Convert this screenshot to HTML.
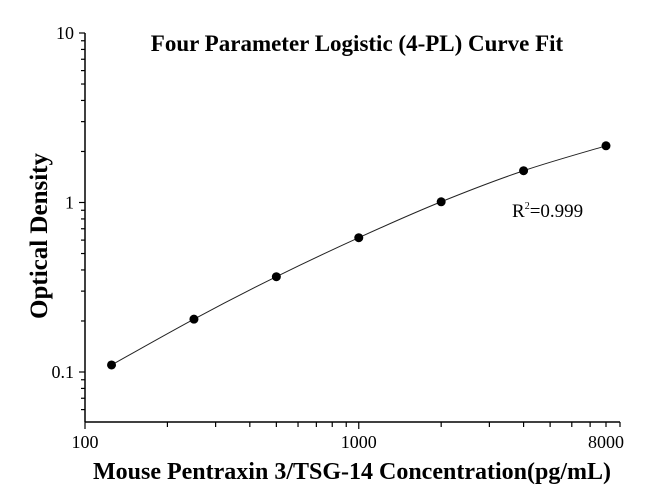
<!DOCTYPE html>
<html><head><meta charset="utf-8"><style>
body{margin:0;background:#fff}
svg text{font-family:"Liberation Serif",serif;fill:#000}
</style></head><body>
<svg id="c" width="650" height="496" viewBox="0 0 650 496">
<text x="357" y="51" font-size="23" font-weight="bold" text-anchor="middle">Four Parameter Logistic (4-PL) Curve Fit</text>
<text transform="translate(47,236) rotate(-90)" font-size="25" font-weight="bold" text-anchor="middle">Optical Density</text>
<text x="352" y="479" font-size="24" font-weight="bold" text-anchor="middle">Mouse Pentraxin 3/TSG-14 Concentration(pg/mL)</text>
<text x="512" y="217" font-size="19">R<tspan dy="-8" font-size="10">2</tspan><tspan dy="8">=0.999</tspan></text>
<g id="axes"></g><g id="plot"></g>
</svg>
<script>
const concentrations=[125,250,500,1000,2000,4000,8000];
const odValues=[0.11,0.205,0.365,0.62,1.01,1.54,2.16];
const xTickLabels=["100","1000","8000"];
const yTickLabels=["0.1","1","10"];
const NS="http://www.w3.org/2000/svg";
const L=85,R=620,T=33,B=422;
const xMin=100,xMax=9000,yMin=0.0507,yMax=10;
const X=v=>L+(Math.log10(v)-Math.log10(xMin))/(Math.log10(xMax)-Math.log10(xMin))*(R-L);
const Y=v=>B-(Math.log10(v)-Math.log10(yMin))/(Math.log10(yMax)-Math.log10(yMin))*(B-T);
function mk(t,a,p){const e=document.createElementNS(NS,t);for(const k in a)e.setAttribute(k,a[k]);p.appendChild(e);return e;}
const ax=document.getElementById('axes'),pl=document.getElementById('plot');
const yl=mk('line',{x1:L,y1:T,x2:L,y2:B,stroke:'#000','stroke-width':1.5},ax);


const xl=mk('line',{x1:L,y1:B,x2:R,y2:B,stroke:'#000','stroke-width':1.5},ax);


for(let d=-2;d<=1;d++){for(let m=1;m<=9;m++){const v=m*Math.pow(10,d);if(v<yMin||v>yMax+1e-9)continue;
const y=Y(v);const len=m===1?6:4;mk('line',{x1:L-len,y1:y,x2:L,y2:y,stroke:'#000','stroke-width':1.2},ax);}}
yTickLabels.forEach(s=>{const t=mk('text',{x:L-11,y:Y(parseFloat(s))+6,'font-size':18,'text-anchor':'end'},ax);t.textContent=s;

});
for(let d=2;d<=3;d++){for(let m=1;m<=9;m++){const v=m*Math.pow(10,d);if(v>xMax+1e-9)continue;
const x=X(v);const len=(m===1)?7:5;mk('line',{x1:x,y1:B,x2:x,y2:B+len,stroke:'#000','stroke-width':1.2},ax);}}
xTickLabels.forEach(s=>{const t=mk('text',{x:X(parseFloat(s)),y:B+26,'font-size':18,'text-anchor':'middle'},ax);t.textContent=s;

});
const P=concentrations.map((c,i)=>[X(c),Y(odValues[i])]);
let d=`M${P[0][0]},${P[0][1]}`;
for(let i=0;i<P.length-1;i++){const p0=P[Math.max(0,i-1)],p1=P[i],p2=P[i+1],p3=P[Math.min(P.length-1,i+2)];
d+=` C${p1[0]+(p2[0]-p0[0])/6},${p1[1]+(p2[1]-p0[1])/6} ${p2[0]-(p3[0]-p1[0])/6},${p2[1]-(p3[1]-p1[1])/6} ${p2[0]},${p2[1]}`;}
const cv=mk('path',{d:d,fill:'none',stroke:'#222','stroke-width':1},pl);


P.forEach(p=>{const c=mk('circle',{cx:p[0],cy:p[1],r:4.5,fill:'#000'},pl);

});
</script>
</body></html>
